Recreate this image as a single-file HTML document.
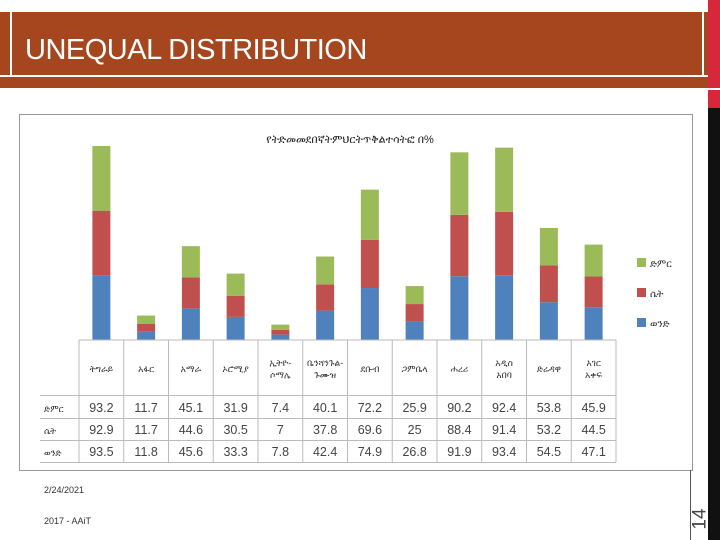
<!DOCTYPE html>
<html><head><meta charset="utf-8"><style>
body{margin:0;width:720px;height:540px;background:#fff;position:relative;overflow:hidden;font-family:"Liberation Sans",sans-serif}
.a{position:absolute}
</style></head><body>
<div class="a" style="left:0;top:12px;width:708px;height:76px;background:#A5461E"></div>
<div class="a" style="left:10px;top:12px;width:2px;height:64px;background:#fff"></div>
<div class="a" style="left:0;top:75px;width:708px;height:2px;background:#fff"></div>
<div class="a" style="left:702px;top:12px;width:2px;height:64px;background:#fff"></div>
<div class="a" style="left:25px;top:34px;color:#fff;font-size:29px;letter-spacing:-0.5px">UNEQUAL DISTRIBUTION</div>
<div class="a" style="left:708px;top:0;width:12px;height:108px;background:#d8263a"></div>
<div class="a" style="left:708px;top:108px;width:12px;height:432px;background:#111"></div>
<div class="a" style="left:708px;top:88px;width:12px;height:2px;background:#fff"></div>
<svg class="a" style="left:0;top:0" width="708" height="540" id="svg"></svg>
<div class="a" style="left:44px;top:485px;font-size:9px;color:#333">2/24/2021</div>
<div class="a" style="left:44px;top:516px;font-size:9px;color:#333">2017 - AAiT</div>
<div class="a" style="left:690px;top:470px;width:1px;height:70px;background:#555"></div>
<div class="a" style="left:690px;top:508px;font-size:19px;color:#444;transform:rotate(-90deg);transform-origin:center">14</div>
<script>
const categories=["ትግራይ","አፋር","አማራ","ኦሮሚያ","ኢትዮ- ሶማሌ","ቤንሻንጉል- ጉሙዝ","ደቡብ","ጋምቤላ","ሐረሪ","አዲስ አበባ","ድሬዳዋ","አገር አቀፍ"];
const totalVals=[93.2,11.7,45.1,31.9,7.4,40.1,72.2,25.9,90.2,92.4,53.8,45.9];
const femaleVals=[92.9,11.7,44.6,30.5,7,37.8,69.6,25,88.4,91.4,53.2,44.5];
const maleVals=[93.5,11.8,45.6,33.3,7.8,42.4,74.9,26.8,91.9,93.4,54.5,47.1];
const seriesNames=["ድምር","ሴት","ወንድ"];
const colors=["#9BBB59","#C0504D","#4F81BD"];
const NS="http://www.w3.org/2000/svg";
const svg=document.getElementById('svg');
function mk(t,a,p){const e=document.createElementNS(NS,t);for(const k in a)e.setAttribute(k,a[k]);(p||svg).appendChild(e);return e;}
const box=mk('rect',{x:19.5,y:114.5,width:673,height:356,fill:'#fff',stroke:'#999'});


const ttl=mk('text',{x:350,y:143,'text-anchor':'middle','font-size':11,fill:'#222','font-family':'Liberation Sans, sans-serif'});
ttl.textContent="የትድመመደበኛትምህርትጥቅልተሳትፎ በ%";


const x0=79,cw=44.75,base=340,k=194/279.6;
const xc=i=>x0+cw*i+cw/2;
const y=v=>v*k;
categories.forEach((c,i)=>{
  let cur=base;
  [[maleVals,2],[femaleVals,1],[totalVals,0]].forEach(([arr,ci])=>{
    const h=y(arr[i]);cur-=h;
    const r=mk('rect',{x:xc(i)-9,y:cur,width:18,height:h,fill:colors[ci]});
    
    
  });
});
seriesNames.forEach((n,j)=>{
  const yy=258+j*30;
  const r=mk('rect',{x:637,y:yy,width:9,height:9,fill:colors[j]});
  
  
  const t=mk('text',{x:650,y:yy+9,'font-size':10,fill:'#333'});
  t.textContent=n;
  
  
});
const rows=[[340,395],[395,418],[418,440],[440,462]];
const gl='#bbb';
mk('line',{x1:x0,y1:340,x2:x0+cw*12,y2:340,stroke:gl});
[395,418,440,462].forEach(v=>mk('line',{x1:40,y1:v+.5,x2:x0+cw*12,y2:v+.5,stroke:gl}));
for(let i=0;i<=12;i++){mk('line',{x1:x0+cw*i,y1:340,x2:x0+cw*i,y2:462,stroke:gl});}
categories.forEach((c,i)=>{
  const parts=c.split(' ');
  const t=mk('text',{x:xc(i),y:372-(parts.length-1)*6,'text-anchor':'middle','font-size':9,fill:'#333'});
  parts.forEach((p,j)=>{const s=mk('tspan',{x:xc(i),dy:j?12:0},t);s.textContent=p;});
  
  
});
const tvals=[totalVals,femaleVals,maleVals];
tvals.forEach((arr,r)=>{
  const yy=rows[r+1][1]-6;
  const lb=mk('text',{x:44,y:yy,'font-size':9,fill:'#333'});
  lb.textContent=seriesNames[r];
  
  
  arr.forEach((v,i)=>{
    const t=mk('text',{x:xc(i),y:yy,'text-anchor':'middle','font-size':12.5,fill:'#444'});
    t.textContent=v;
    
    
  });
});
</script>
</body></html>
